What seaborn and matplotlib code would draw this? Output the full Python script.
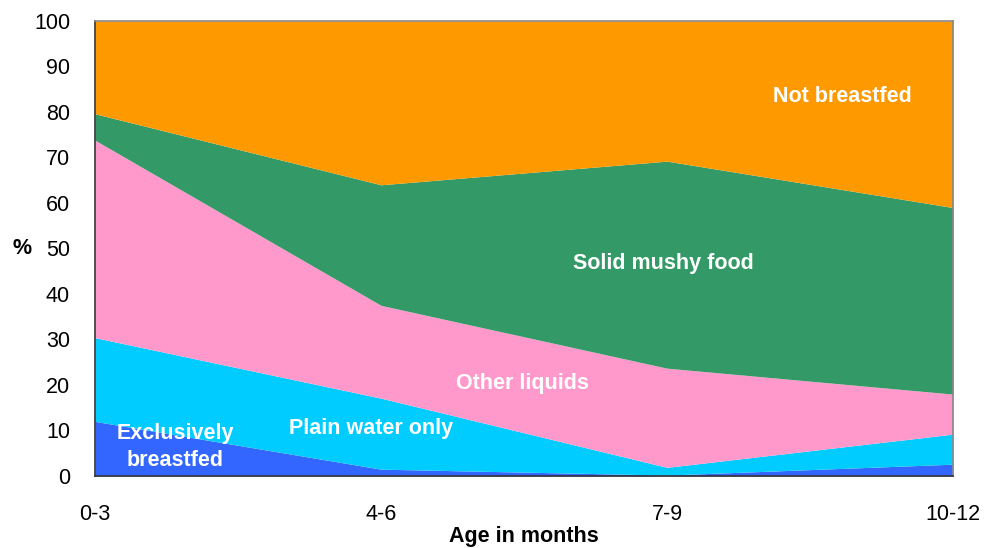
import matplotlib
matplotlib.use("Agg")
import matplotlib.pyplot as plt
import numpy as np
import pandas as pd
import seaborn as sns

# ── Data (percent of infants, by age group) ───────────────────────────────────
ages = ["0-3", "4-6", "7-9", "10-12"]
exclusively_breastfed = [12.0, 1.5, 0.2, 2.6]
plain_water_only = [18.4, 15.6, 1.7, 6.6]
other_liquids = [43.4, 20.4, 21.8, 8.8]
solid_mushy_food = [5.8, 26.5, 45.5, 41.0]
not_breastfed = [20.4, 36.0, 30.8, 41.0]

series_names = [
    "Exclusively\nbreastfed",
    "Plain water only",
    "Other liquids",
    "Solid mushy food",
    "Not breastfed",
]
colors = ["#3366FF", "#00CCFF", "#FF99CC", "#339966", "#FF9900"]

df = pd.DataFrame(
    {
        series_names[0]: exclusively_breastfed,
        series_names[1]: plain_water_only,
        series_names[2]: other_liquids,
        series_names[3]: solid_mushy_food,
        series_names[4]: not_breastfed,
    },
    index=ages,
)

sns.set_style("white")
plt.rcParams["font.family"] = ["Liberation Sans", "DejaVu Sans"]
plt.rcParams["text.color"] = "black"
plt.rcParams["axes.labelcolor"] = "black"
plt.rcParams["xtick.color"] = "black"
plt.rcParams["ytick.color"] = "black"

fig = plt.figure(figsize=(9.87, 5.48), dpi=100)
ax = fig.add_axes([0.0963, 0.1314, 0.8692, 0.8303])

x = np.arange(len(ages))
ax.stackplot(x, df.T.values, colors=colors, linewidth=0)

ax.set_xlim(0, len(ages) - 1)
ax.set_ylim(0, 100)
ax.set_xticks(x)
ax.set_xticklabels(ages)
ax.set_yticks(range(0, 101, 10))
ax.tick_params(axis="both", labelsize=15.5, length=7, width=1, direction="out",
               color="#333333", labelcolor="black")
ax.tick_params(axis="x", pad=13)
ax.tick_params(axis="y", pad=11)

for side in ("left", "bottom"):
    ax.spines[side].set_color("#333333")
    ax.spines[side].set_linewidth(1.2)
for side in ("top", "right"):
    ax.spines[side].set_color("#888888")
    ax.spines[side].set_linewidth(1.2)

ax.set_xlabel("Age in months", fontsize=15.5, fontweight="bold", va="center")
ax.xaxis.set_label_coords(0.5, -0.132)
ax.set_ylabel("%", fontsize=15.5, fontweight="bold", rotation=0, va="center")
ax.yaxis.set_label_coords(-0.085, 0.5)

# ── In-area labels ────────────────────────────────────────────────────────────
label_pos = [(0.28, 6.4), (0.965, 10.5), (1.493, 20.4), (1.986, 46.8), (2.612, 83.5)]
for name, (lx, ly) in zip(series_names, label_pos):
    ax.text(lx, ly, name, color="white", fontsize=15.5, fontweight="bold",
            ha="center", va="center", linespacing=1.35)

fig.savefig("out.png", dpi=100)
plt.close(fig)
